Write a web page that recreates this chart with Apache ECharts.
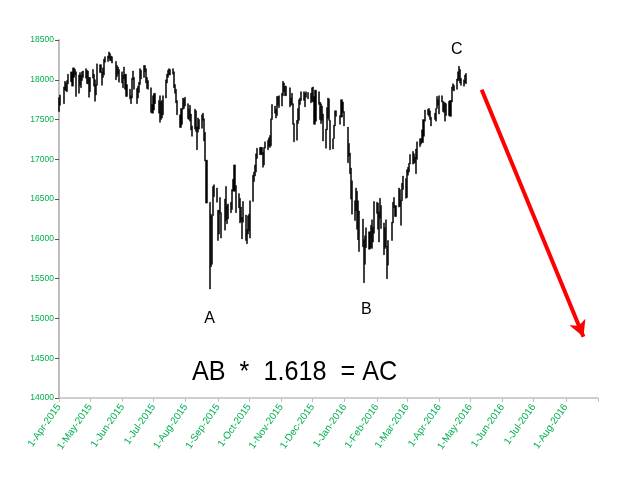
<!DOCTYPE html>
<html>
<head>
<meta charset="utf-8">
<script src="https://cdn.jsdelivr.net/npm/echarts@6/dist/echarts.min.js"></script>
<style>
html, body { margin: 0; padding: 0; background: #fff; }
#chart { width: 640px; height: 494px; }
</style>
</head>
<body>
<div id="chart"></div>
<script>
// axis range (calendar days) and market calendar
const firstDay = '2015-04-01';
const lastDay = '2016-09-01';
const lastTradeDay = '2016-04-27';
const holidays = ['2015-04-03', '2015-05-25', '2015-07-03', '2015-09-07', '2015-11-26',
    '2015-12-25', '2016-01-01', '2016-01-18', '2016-02-15', '2016-03-25'];
const monthNames = ['Jan', 'Feb', 'Mar', 'Apr', 'May', 'Jun', 'Jul', 'Aug', 'Sep', 'Oct', 'Nov', 'Dec'];

// daily lows, one per trading day
const lows = [
    // Apr 2015
    17600, 17680, 17700, 17870, 17860, 17850, 17950, 17975, 17920, 18030, 18060, 17790, 17830, 17930, 17900, 17990, 18030, 18020, 17950, 17950, 17780,
    // May
    17850, 18020, 17920, 17730, 17810, 17930, 18090, 17930, 18030, 18060, 18220, 18230, 18270, 18240, 18240, 18210, 18000, 18040, 18070, 17970,
    // Jun
    17960, 17900, 18010, 17880, 17790, 17760, 17700, 17770, 18000, 17880, 17700, 17770, 17840, 17940, 18010, 18030, 18100, 17960, 17890, 17880, 17590, 17580,
    // Jul
    17620, 17700, 17580, 17465, 17500, 17520, 17560, 17770, 17960, 18030, 18060, 18060, 18070, 17900, 17830, 17710, 17560, 17400, 17440, 17630, 17640, 17670,
    // Aug
    17510, 17500, 17480, 17370, 17290, 17380, 17350, 17120, 17340, 17380, 17390, 17490, 17230, 16980, 16450, 15370, 15650, 15680, 16290, 16530, 16460,
    // Sep
    15980, 16060, 16320, 16010, 16110, 16230, 16190, 16250, 16330, 16370, 16600, 16600, 16330, 16390, 16200, 16220, 16000, 16210, 15980, 15940, 16060,
    // Oct
    16100, 16010, 16470, 16720, 16790, 16840, 17010, 17060, 17060, 16900, 16930, 17140, 17120, 17160, 17150, 17170, 17500, 17580, 17520, 17550, 17680, 17650,
    // Nov
    17670, 17800, 17850, 17800, 17800, 17660, 17680, 17690, 17440, 17220, 17240, 17450, 17490, 17690, 17740, 17740, 17660, 17780, 17760, 17710,
    // Dec
    17730, 17720, 17440, 17480, 17690, 17500, 17450, 17490, 17230, 17140, 17370, 17520, 17490, 17120, 17130, 17260, 17420, 17540, 17440, 17530, 17590, 17420,
    // Jan 2016
    16957, 17040, 16820, 16500, 16310, 16230, 16350, 16120, 15990, 15840, 15900, 15450, 15680, 15890, 15870, 15890, 15880, 15960, 16070,
    // Feb
    16320, 16120, 15960, 16260, 16130, 15800, 15880, 15900, 15500, 15670, 15980, 16200, 16390, 16280, 16400, 16410, 16170, 16480, 16620, 16510,
    // Mar
    16520, 16800, 16840, 16940, 16940, 16950, 16960, 16820, 17000, 17160, 17190, 17210, 17290, 17480, 17560, 17540, 17500, 17420, 17500, 17480, 17640, 17680,
    // Apr
    17570, 17720, 17600, 17590, 17480, 17550, 17550, 17540, 17720, 17870, 17860, 17880, 17990, 17990, 17960, 17930, 17920, 17960, 17950
];

// daily highs, one per trading day
const highs = [
    // Apr 2015
    17776, 17810, 17910, 17980, 17960, 17990, 18070, 18100, 18070, 18150, 18130, 18100, 18060, 18090, 18060, 18100, 18110, 18140, 18120, 18110, 18030,
    // May
    18030, 18130, 18070, 18000, 17940, 18200, 18190, 18100, 18150, 18260, 18290, 18300, 18350, 18330, 18300, 18290, 18230, 18180, 18160, 18130,
    // Jun
    18100, 18060, 18160, 18070, 17940, 17880, 17800, 18020, 18110, 18030, 17890, 17920, 17970, 18140, 18120, 18180, 18180, 18140, 18030, 17990, 17900, 17690,
    // Jul
    17800, 17830, 17740, 17800, 17730, 17740, 17800, 18000, 18070, 18120, 18140, 18130, 18140, 18100, 17940, 17880, 17740, 17560, 17640, 17770, 17760, 17780,
    // Aug
    17700, 17630, 17680, 17570, 17420, 17630, 17610, 17410, 17520, 17500, 17560, 17580, 17510, 17340, 16990, 16460, 16310, 16290, 16660, 16680, 16640,
    // Sep
    16360, 16360, 16520, 16330, 16500, 16660, 16420, 16440, 16460, 16620, 16750, 16930, 16670, 16570, 16510, 16400, 16270, 16470, 16300, 16120, 16290,
    // Oct
    16310, 16480, 16800, 16840, 16930, 17070, 17140, 17150, 17150, 17090, 17150, 17220, 17240, 17270, 17300, 17510, 17690, 17670, 17630, 17790, 17790, 17800,
    // Nov
    17830, 17980, 17960, 17920, 17920, 17900, 17770, 17830, 17700, 17450, 17490, 17640, 17750, 17770, 17850, 17850, 17830, 17850, 17840, 17830,
    // Dec
    17900, 17910, 17790, 17870, 17850, 17720, 17700, 17670, 17570, 17380, 17650, 17770, 17760, 17490, 17260, 17430, 17610, 17610, 17550, 17750, 17720, 17600,
    // Jan 2016
    17405, 17200, 17080, 16890, 16730, 16480, 16640, 16600, 16480, 16350, 16250, 15990, 16040, 16140, 16090, 16170, 16240, 16150, 16470,
    // Feb
    16460, 16450, 16340, 16510, 16420, 16200, 16140, 16240, 15910, 15980, 16210, 16460, 16520, 16420, 16640, 16620, 16490, 16700, 16790, 16760,
    // Mar
    16870, 16900, 16950, 17060, 17100, 17070, 17030, 17130, 17220, 17260, 17260, 17370, 17500, 17620, 17630, 17640, 17610, 17530, 17580, 17640, 17790, 17750,
    // Apr
    17800, 17800, 17730, 17720, 17710, 17700, 17730, 17740, 17910, 17950, 17930, 18010, 18100, 18170, 18130, 18020, 18000, 18060, 18080
];

const yTicks = { min: 14000, max: 18500, step: 500 };

const pointLabels = [
    { name: 'A', day: '2015-08-24', value: 15000 },
    { name: 'B', day: '2016-01-22', value: 15115 },
    { name: 'C', day: '2016-04-18', value: 18380 }
];
const arrowFrom = { day: '2016-05-12', value: 17874 };
const arrowTo = { day: '2016-08-18', value: 14770 };

// one category per calendar day
const days = [];
for (let t = Date.parse(firstDay + 'T00:00:00Z'); t <= Date.parse(lastDay + 'T00:00:00Z'); t += 86400000) {
    days.push(new Date(t).toISOString().slice(0, 10));
}

const candles = [];
let k = 0;
days.forEach(d => {
    const wd = new Date(d + 'T00:00:00Z').getUTCDay();
    if (d <= lastTradeDay && wd !== 0 && wd !== 6 && !holidays.includes(d) && k < lows.length) {
        candles.push([lows[k], highs[k], lows[k], highs[k]]);
        k++;
    } else {
        candles.push('-');
    }
});

const green = '#00b050';
const dateLabel = v => {
    const [y, m, d] = v.split('-');
    return (+d) + '-' + monthNames[+m - 1] + '-' + y;
};

const chart = echarts.init(document.getElementById('chart'));
chart.setOption({
    animation: false,
    grid: { left: 59, right: 42, top: 40, bottom: 96 },
    xAxis: {
        type: 'category',
        data: days,
        boundaryGap: false,
        axisLine: { lineStyle: { color: '#bfbfbf', width: 1.5 } },
        axisTick: {
            length: 4,
            lineStyle: { color: '#bfbfbf' },
            interval: (i, v) => v.endsWith('-01')
        },
        axisLabel: {
            rotate: 55,
            margin: 7,
            color: green,
            fontFamily: 'Liberation Sans, Arial, sans-serif',
            fontSize: 10,
            interval: (i, v) => v.endsWith('-01') && i < days.length - 1,
            formatter: dateLabel
        },
        splitLine: { show: false }
    },
    yAxis: {
        type: 'value',
        min: yTicks.min,
        max: yTicks.max,
        interval: yTicks.step,
        axisLine: { show: true, lineStyle: { color: '#bfbfbf', width: 2 } },
        axisTick: { show: true, length: 4, lineStyle: { color: '#595959' } },
        axisLabel: {
            margin: 5,
            color: green,
            fontFamily: 'Liberation Sans, Arial, sans-serif',
            fontSize: 8.5,
            formatter: v => String(v)
        },
        splitLine: { show: false }
    },
    series: [{
        type: 'candlestick',
        data: candles,
        barWidth: 1.6,
        itemStyle: {
            color: '#000',
            color0: '#000',
            borderColor: '#000',
            borderColor0: '#000',
            borderWidth: 0.5
        },
        markPoint: {
            symbol: 'circle',
            symbolSize: 0,
            label: {
                show: true,
                color: '#000',
                fontSize: 16,
                fontFamily: 'Liberation Sans, Arial, sans-serif',
                formatter: p => p.name
            },
            data: pointLabels.map(p => ({ name: p.name, coord: [p.day, p.value] }))
        },
        markLine: {
            silent: true,
            symbol: ['none', 'arrow'],
            symbolSize: [13, 16],
            label: { show: false },
            lineStyle: { color: '#ff0000', width: 4, type: 'solid' },
            data: [[
                { coord: [arrowFrom.day, arrowFrom.value] },
                { coord: [arrowTo.day, arrowTo.value] }
            ]]
        }
    }],
    graphic: [{
        type: 'text',
        x: 192,
        y: 358,
        scaleX: 0.9,
        style: {
            text: 'AB  *  1.618  = AC',
            fill: '#000',
            fontSize: 28,
            fontFamily: 'Liberation Sans, Arial, sans-serif'
        }
    }]
});
</script>
</body>
</html>
